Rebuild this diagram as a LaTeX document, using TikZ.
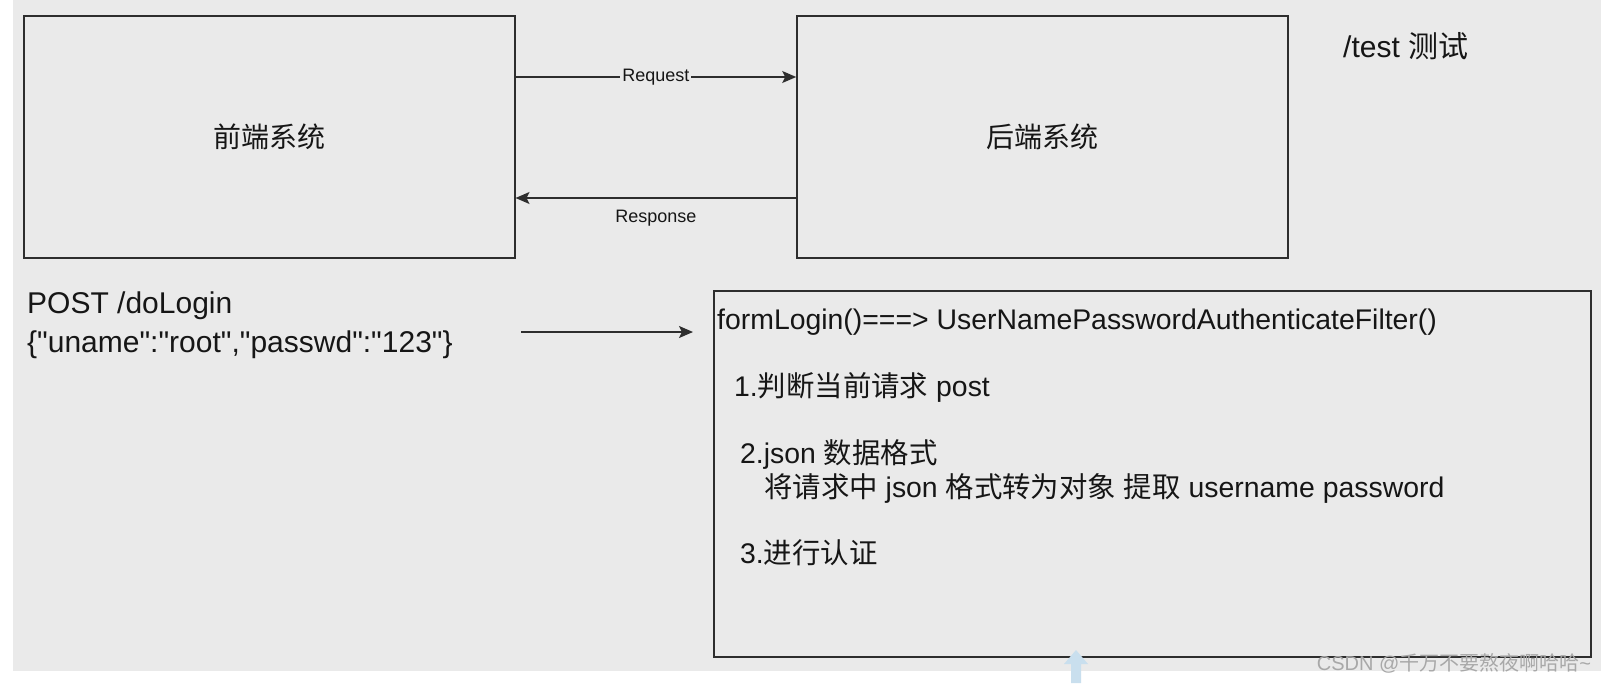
\documentclass[tikz,border=0pt]{standalone}
\usepackage{fontspec}
\setmainfont{Liberation Sans}[Ligatures=TeXOff]
\newfontfamily\cjk{Noto Sans CJK SC}
\usetikzlibrary{arrows.meta}
\definecolor{bgc}{HTML}{EAEAEA}
\definecolor{linec}{HTML}{2E2E2E}
\definecolor{txtc}{HTML}{161616}
\definecolor{wmc}{HTML}{A8A8A8}
\definecolor{cursorc}{HTML}{C9DFEE}
\begin{document}
\begin{tikzpicture}[x=1pt,y=-1pt,
  sysbox/.style={draw=linec,line width=1.6pt,minimum width=491pt,minimum height=242pt,inner sep=0pt,text=txtc,font=\cjk\fontsize{28}{34}\selectfont},
  bigbox/.style={draw=linec,line width=1.6pt,minimum width=877pt,minimum height=366pt,inner sep=0pt},
  conn/.style={draw=linec,line width=1.4pt,-{Stealth[length=14pt,width=12pt,inset=3pt]}},
  lbl/.style={inner sep=2pt,text=txtc,font=\fontsize{18}{22}\selectfont},
  txt/.style={anchor=base west,inner sep=0pt,text=txtc,font=\fontsize{28.4}{34}\selectfont},
  bigtxt/.style={anchor=base west,inner sep=0pt,text=txtc,font=\fontsize{30}{36}\selectfont}
]
\useasboundingbox (0,0) rectangle (1601,683);
\fill[white] (0,0) rectangle (1601,683);
\fill[bgc] (13,0) rectangle (1601,671);

% system boxes
\node[sysbox] (front) at (269.25,137) {前端系统};
\node[sysbox] (back) at (1042.5,137) {后端系统};

% request / response
\coordinate (rq) at (0,77);
\coordinate (rs) at (0,198);
\draw[conn] (front.east |- rq) -- node[lbl,fill=bgc] (reqlbl) {Request} (back.west |- rq);
\draw[conn] (back.west |- rs) -- node[lbl,below=9pt] (reslbl) {Response} (front.east |- rs);

% /test label
\node[bigtxt] (testlbl) at (1343,57) {/test {\cjk 测试}};

% POST request text
\node[bigtxt] (post1) at (27,313) {POST /doLogin};
\node[bigtxt] (post2) at (27,352) {\{"uname":"root","passwd":"123"\}};

% middle arrow
\coordinate (ms) at (521,332);
\coordinate (me) at (693,332);
\draw[conn] (ms) -- (me);

% filter box
\node[bigbox] (filt) at (1152.5,474) {};
\node[txt] (t0) at (717,329) {formLogin()===> UserNamePasswordAuthenticateFilter()};
\node[txt] (t1) at (734,396) {1.{\cjk 判断当前请求} post};
\node[txt] (t2) at (740,463) {2.json {\cjk 数据格式}};
\node[txt] (t3) at (764,497) {{\cjk 将请求中} json {\cjk 格式转为对象} {\cjk 提取} username password};
\node[txt] (t4) at (740,563) {3.{\cjk 进行认证}};

% faint cursor arrow
\fill[cursorc] (1076,650) -- (1088,664) -- (1081,664) -- (1081,683) -- (1071,683) -- (1071,664) -- (1064,664) -- cycle;

% watermark
\node[inner sep=0pt,text=wmc,font=\fontsize{20}{24}\selectfont] (wm) at (1454,663) {CSDN @{\cjk 千万不要熬夜啊哈哈}\textasciitilde};
\end{tikzpicture}
\end{document}
